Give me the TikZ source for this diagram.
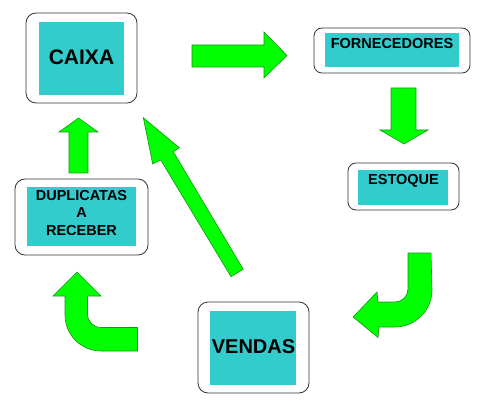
\documentclass[tikz,border=0pt]{standalone}
\usepackage{fontspec}
\setmainfont{Liberation Sans}
\definecolor{tealc}{HTML}{33CCCC}
\definecolor{arrowgreen}{HTML}{00FF00}
\definecolor{arrowedge}{HTML}{119911}
\begin{document}
\begin{tikzpicture}[x=1pt,y=-1pt,
  outerbox/.style={draw=black!80, line width=0.8pt, rounded corners=10pt, fill=white, inner sep=0pt},
  tealbox/.style={fill=tealc, inner sep=0pt},
  big/.style={font=\fontsize{21}{24}\selectfont\bfseries, inner sep=0pt},
  small/.style={font=\fontsize{14.5}{17.5}\selectfont\bfseries, align=center, inner sep=0pt},
  blockarrow/.style={fill=arrowgreen, draw=arrowedge, line width=0.6pt, line join=miter}]
\useasboundingbox (0,0) rectangle (484,406);

% CAIXA
\node[outerbox, minimum width=111pt, minimum height=90pt] (caixa) at (81.5,58) {};
\node[tealbox, minimum width=85pt, minimum height=73pt] (caixaT) at (81.5,58.5) {};
\node[big] (caixaL) at (81.5,57.5) {CAIXA};

% FORNECEDORES
\node[outerbox, rounded corners=8pt, minimum width=156pt, minimum height=45pt] (forn) at (392,50.5) {};
\node[tealbox, minimum width=134pt, minimum height=34pt] (fornT) at (392,50) {};
\node[small] (fornL) at (392,43.5) {FORNECEDORES};

% ESTOQUE
\node[outerbox, rounded corners=8pt, minimum width=111pt, minimum height=47pt] (est) at (403.5,186.5) {};
\node[tealbox, minimum width=90pt, minimum height=35pt] (estT) at (403,187.5) {};
\node[small] (estL) at (403.5,180.5) {ESTOQUE};

% DUPLICATAS A RECEBER
\node[outerbox, minimum width=133pt, minimum height=76pt] (dup) at (81.5,217) {};
\node[tealbox, minimum width=109pt, minimum height=59pt] (dupT) at (81.5,216.5) {};
\node[small] (dupL) at (81.5,213) {DUPLICATAS\\A\\RECEBER};

% VENDAS
\node[outerbox, minimum width=111pt, minimum height=91pt] (vendas) at (253.5,347.5) {};
\node[tealbox, minimum width=86pt, minimum height=74pt] (vendasT) at (253,348) {};
\node[big, font=\fontsize{20}{24}\selectfont\bfseries] (vendasL) at (253.5,346.5) {VENDAS};

% Arrow CAIXA -> FORNECEDORES
\draw[blockarrow] (192,45) -- (264,45) -- (264,32) -- (287,55.5) -- (264,78) -- (264,67) -- (192,67) -- cycle;
% Arrow FORNECEDORES -> ESTOQUE
\draw[blockarrow] (391,88) -- (416,88) -- (416,130) -- (428,130) -- (404,144) -- (380,130) -- (391,130) -- cycle;
% Arrow DUPLICATAS -> CAIXA
\draw[blockarrow] (69,173) -- (69,132) -- (59,132) -- (78.5,118) -- (98,132) -- (88,132) -- (88,173) -- cycle;
% Arrow VENDAS -> CAIXA (diagonal)
\draw[blockarrow] (231,276.7) -- (160.7,160) -- (152.7,164) -- (143.3,117.7) -- (179.3,147.7) -- (173.3,151.7) -- (243.3,269.3) -- cycle;
% Arrow ESTOQUE -> VENDAS (curved)
\draw[blockarrow] (408,253) -- (431,253) -- (432,290) arc[start angle=0, end angle=90, radius=37]
  -- (379,327) -- (378,337.5) -- (353,317) -- (377,292) -- (378,302) -- (395,302)
  arc[start angle=90, end angle=0, radius=13] -- cycle;
% Arrow VENDAS -> DUPLICATAS (curved)
\draw[blockarrow] (77,272) -- (101,296) -- (87.5,296) -- (87.5,314)
  arc[start angle=180, end angle=90, radius=13.5] -- (137.5,327.5) -- (137.5,351) -- (101,351)
  arc[start angle=90, end angle=180, radius=36] -- (65,296) -- (53,296) -- cycle;
\end{tikzpicture}
\end{document}
